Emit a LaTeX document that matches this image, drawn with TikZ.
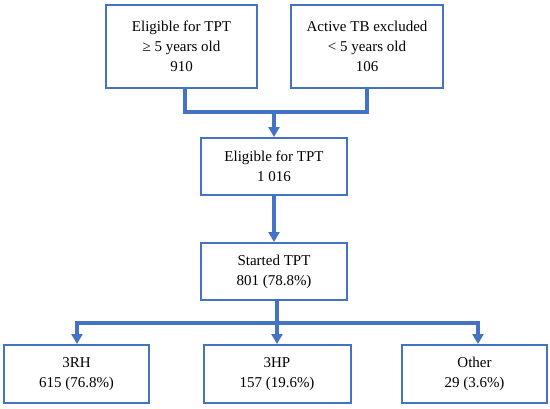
\documentclass[tikz,border=0pt]{standalone}
\usepackage{fontspec}
\setmainfont{Liberation Serif}
\usetikzlibrary{arrows.meta,calc}
\definecolor{blu}{HTML}{4472C4}
\tikzset{
  box/.style={draw=blu,line width=2pt,fill=white,align=center,inner sep=0pt,
    font=\fontsize{15}{20}\selectfont},
  conn/.style={draw=blu,line width=4pt},
  arr/.style={conn,-{Triangle[width=11pt,length=10pt]}}
}
\begin{document}
\begin{tikzpicture}[x=1pt,y=-1pt]
\useasboundingbox (0,0) rectangle (550,408);
\node[box,minimum width=151pt,minimum height=83pt] (tl) at (181.5,46.5) {Eligible for TPT\\≥ 5 years old\\910};
\node[box,minimum width=152pt,minimum height=83pt] (tr) at (367,46.5) {Active TB excluded\\< 5 years old\\106};
\node[box,minimum width=146pt,minimum height=57pt] (elig) at (274,166.5) {Eligible for TPT\\1 016};
\node[box,minimum width=146pt,minimum height=57pt] (start) at (274,271.5) {Started TPT\\801 (78.8\%)};
\node[box,minimum width=145pt,minimum height=58pt] (rh) at (76.5,374) {3RH\\615 (76.8\%)};
\node[box,minimum width=147pt,minimum height=58pt] (hp) at (277,374) {3HP\\157 (19.6\%)};
\node[box,minimum width=145pt,minimum height=58pt] (oth) at (474.5,374) {Other\\29 (3.6\%)};
\coordinate (j1) at (274,112);
\coordinate (j2) at (277,323);
\draw[conn,line join=miter] ([xshift=3.5pt]tl.south) |- (j1 -| tr.south) -- (tr.south);
\draw[arr] (j1) -- (elig.north);
\draw[arr] (elig.south) -- (start.north);
\draw[conn] ([xshift=3pt]start.south) -- (j2);
\draw[arr,line join=miter] (j2) -| ([xshift=0.5pt]rh.north);
\draw[arr,line join=miter] (j2) -| ([xshift=3.5pt]oth.north);
\draw[arr] (j2) -- (hp.north);
\end{tikzpicture}
\end{document}
